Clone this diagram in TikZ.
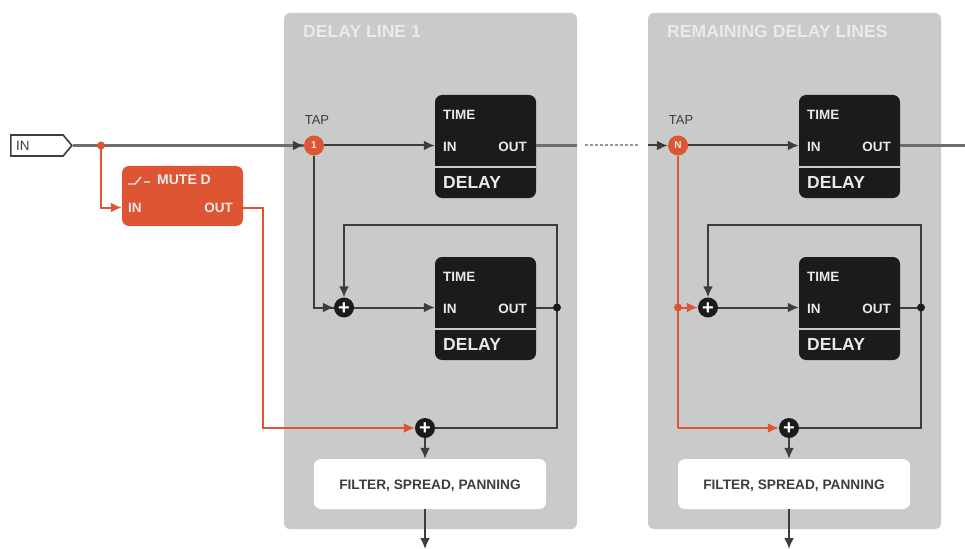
\documentclass[tikz,border=0pt]{standalone}
\usepackage{fontspec}
\setmainfont{Liberation Sans}
\usepackage{xcolor}
\usepackage{tikz}
\usetikzlibrary{arrows.meta,positioning,calc,shapes.symbols}
\definecolor{panelgray}{HTML}{C9CBCA}
\definecolor{boxblack}{HTML}{1A1C1A}
\definecolor{muteorange}{HTML}{DD5533}
\definecolor{wiredark}{HTML}{3C3E3C}
\definecolor{labelwhite}{HTML}{E9EAE9}

\begin{document}
\begin{tikzpicture}[
    x=1pt, y=-1pt,
    wire/.style={draw=wiredark, line width=2pt},
    arrowed/.style={wire, -{Latex[length=11pt,width=10pt]}},
    mainwire/.style={draw=wiredark!75, line width=2.6pt},
    orangewire/.style={draw=muteorange, line width=2pt},
    orangearrow/.style={orangewire, -{Latex[length=11pt,width=10pt]}},
    % grey area behind one delay line
    panel/.style={fill=panelgray, rounded corners=6pt, minimum width=293pt, minimum height=516pt, inner sep=0pt},
    delaybox/.style={fill=boxblack, rounded corners=7pt, minimum width=101pt, minimum height=103pt, inner sep=0pt},
    mutebox/.style={fill=muteorange, rounded corners=7pt, minimum width=121pt, minimum height=60pt, inner sep=0pt},
    fxbox/.style={fill=white, rounded corners=7pt, minimum width=232pt, minimum height=50pt, inner sep=0pt,
      text height=10pt, text depth=0pt, font=\bfseries\fontsize{13.7}{14}\selectfont, text=wiredark},
    port/.style={text=labelwhite, inner sep=0pt, font=\bfseries\fontsize{13.5}{14}\selectfont},
    bigport/.style={port, font=\bfseries\fontsize{17.5}{18}\selectfont},
    title/.style={text=labelwhite, inner sep=0pt, anchor=west, font=\bfseries\fontsize{17.6}{18}\selectfont},
    sum/.style={circle, fill=boxblack, text=white, minimum size=20pt, inner sep=0pt,
      text height=13pt, text depth=0pt, font=\bfseries\fontsize{20}{20}\selectfont},
    tapdot/.style={circle, fill=muteorange, text=labelwhite, minimum size=20pt, inner sep=0pt,
      font=\bfseries\fontsize{10}{10}\selectfont},
    joint/.style={circle, minimum size=8pt, inner sep=0pt},
  ]
  \useasboundingbox (0,0) rectangle (965,548);

  % input tag and mute block
  \node[shape=signal, signal to=east, signal pointer angle=100, draw=wiredark, line width=1.6pt, fill=white,
    minimum width=61pt, minimum height=21pt, inner sep=0pt] (input) at (37,145.5) {};
  \node[inner sep=0pt, anchor=west, text=wiredark, font=\fontsize{13.5}{14}\selectfont] (inputlabel) at (16,145.5) {IN};
  \node[mutebox] (mute) at (182.5,196) {};
  \node[port, anchor=west] (mutein) at (128,207.5) {IN};
  \node[port, anchor=east] (muteout) at (233,207.5) {OUT};
  \node[port, anchor=west, font=\bfseries\fontsize{14}{14}\selectfont] (mutename) at (157,179.5) {MUTE D};
  \draw[labelwhite, line width=1.4pt] (128,184) -- (135,184) -- (141,177) (144,182) -- (150,182);

  \foreach \n/\dx/\tname/\tapmark in {A/0/DELAY LINE 1/1, B/364/REMAINING DELAY LINES/N} {
    \node[panel] (panel\n) at (430.5+\dx,271) {};
    \node[title] (title\n) at (303+\dx,31) {\tname};
    \node[tapdot] (tap\n) at (314+\dx,145.5) {\tapmark};
    \node[inner sep=0pt, text=wiredark, font=\fontsize{13}{13}\selectfont] (taplabel\n) at (317+\dx,120.5) {TAP};
    % both delays of this line
    \foreach \m/\dy in {u/0,v/162} {
      \node[delaybox] (dly\n\m) at (485.5+\dx,146.5+\dy) {};
      \node[port, anchor=west] (time\n\m) at (443+\dx,115+\dy) {TIME};
      \node[port, anchor=west] (in\n\m) at (443+\dx,146.5+\dy) {IN};
      \node[port, anchor=east] (out\n\m) at (527+\dx,146.5+\dy) {OUT};
      \node[bigport, anchor=west] (name\n\m) at (443+\dx,182.5+\dy) {DELAY};
      \draw[panelgray, line width=2pt] (dly\n\m.west |- 0,167+\dy) -- (dly\n\m.east |- 0,167+\dy);
    }
    \node[sum] (sumfb\n) at (344+\dx,307.5) {+};
    \node[sum] (summix\n) at (425+\dx,428) {+};
    \node[fxbox] (fx\n) at (430+\dx,484) {FILTER, SPREAD, PANNING};
    \coordinate (fbtop\n) at (557+\dx,225);
    \coordinate (fbcorner\n) at (557+\dx,428);
    \coordinate (sink\n) at (425+\dx,549);
    \coordinate (fbsplit\n) at (fbtop\n |- sumfb\n);
    % signal path
    \draw[arrowed] (tap\n) -- (tap\n -| dly\n u.west);
    \draw[arrowed] (sumfb\n) -- (sumfb\n -| dly\n v.west);
    \draw[wire] (sumfb\n -| dly\n v.east) -- (fbsplit\n);
    \draw[arrowed] (fbsplit\n) -- (fbtop\n) -| (sumfb\n.north);
    \draw[wire] (fbsplit\n) -- (fbcorner\n) -- (summix\n);
    \draw[arrowed] (summix\n) -- (summix\n |- fx\n.north);
    \draw[arrowed] (summix\n |- fx\n.south) -- (sink\n);
    \node[joint, fill=boxblack] (fbjoint\n) at (fbsplit\n) {};
  }

  % wires between the lines and from the input
  \coordinate (gapstart) at (585,145.5);
  \coordinate (gapend) at (638,145.5);
  \coordinate (outright) at (965,145.5);
  \coordinate (splitpoint) at (101,145.5);
  \draw[mainwire] (input.east) -- (tapA);
  \draw[arrowed] ($(tapA)+(-21,0)$) -- (tapA);
  \draw[mainwire] (dlyAu.east |- tapA) -- (panelA.east |- tapA);
  \draw[draw=wiredark!55, line width=2pt, dash pattern=on 3pt off 2pt] (gapstart) -- (gapend);
  \draw[arrowed] (panelB.west |- tapB) -- (tapB);
  \draw[mainwire] (dlyBu.east |- tapB) -- (outright);

  % orange paths
  \draw[orangearrow] (splitpoint) |- (mute.west |- mutein);
  \node[joint, fill=muteorange] (split) at (splitpoint) {};
  \draw[orangearrow] (mute.east |- muteout) -| (263,428) -- (summixA);
  \draw[wire] (tapA) |- (sumfbA);
  \draw[arrowed] ($(tapA |- sumfbA)+(10,0)$) -- (sumfbA);
  \draw[orangewire] (tapB) -- (tapB |- summixB);
  \draw[orangearrow] (tapB |- summixB) -- (summixB);
  \node[joint, fill=muteorange] (splitB) at (tapB |- sumfbB) {};
  \draw[orangearrow] (splitB.center) -- (sumfbB);
\end{tikzpicture}
\end{document}
